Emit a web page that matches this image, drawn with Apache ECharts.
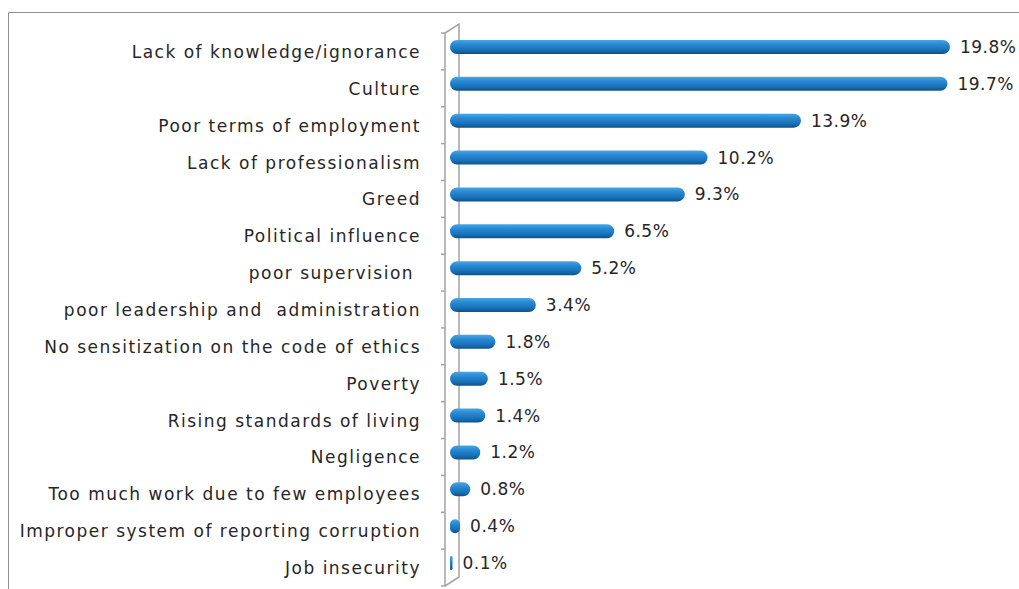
<!DOCTYPE html>
<html>
<head>
<meta charset="utf-8">
<title>Causes of corruption</title>
<script src="https://cdn.jsdelivr.net/npm/echarts@6/dist/echarts.min.js"></script>
<style>
  html, body { margin: 0; padding: 0; background: #ffffff; }
  #chart { width: 1019px; height: 589px; }
  /* category names are set a little wider, value labels slightly */
  #chart svg text { letter-spacing: 0.5px; }
  #chart svg text[text-anchor="end"] { letter-spacing: 1.5px; }
</style>
</head>
<body>
<div id="chart"></div>
<script>
const categories = [
  'Lack of knowledge/ignorance',
  'Culture',
  'Poor terms of employment',
  'Lack of professionalism',
  'Greed',
  'Political influence',
  'poor supervision ',
  'poor leadership and  administration',
  'No sensitization on the code of ethics',
  'Poverty',
  'Rising standards of living',
  'Negligence',
  'Too much work due to few employees',
  'Improper system of reporting corruption',
  'Job insecurity'
];
const values = [19.8, 19.7, 13.9, 10.2, 9.3, 6.5, 5.2, 3.4, 1.8, 1.5, 1.4, 1.2, 0.8, 0.4, 0.1];

const chart = echarts.init(document.getElementById('chart'), null, { renderer: 'svg' });

const barFill = new echarts.graphic.LinearGradient(0, 0, 0, 1, [
  { offset: 0, color: '#4aa6e4' },
  { offset: 0.3, color: '#2a8ad4' },
  { offset: 0.7, color: '#1872bb' },
  { offset: 1, color: '#0e5288' }
]);

chart.setOption({
  backgroundColor: '#ffffff',
  animation: false,
  grid: { left: 450, right: 64, top: 28.5, bottom: 7.5, containLabel: false },
  xAxis: {
    type: 'value', min: 0, max: 20,
    show: false
  },
  yAxis: {
    type: 'category',
    data: categories,
    inverse: true,
    axisLine: { show: false },
    axisTick: { show: false },
    axisLabel: {
      margin: 29,
      color: '#262626',
      fontFamily: 'DejaVu Sans',
      fontSize: 17,
      verticalAlign: 'top',
      lineHeight: 10
    }
  },
  series: [{
    type: 'bar',
    data: values,
    barWidth: 14,
    z: 3,
    itemStyle: {
      color: barFill,
      borderRadius: 7
    },
    label: {
      show: true,
      position: 'right',
      distance: 10,
      color: '#262626',
      fontFamily: 'DejaVu Sans',
      fontSize: 17,
      formatter: p => p.value.toFixed(1) + '%'
    }
  }]
});

// Skewed axis wall at the value-zero plane, with tick marks on its front edge
const x0 = chart.convertToPixel({ xAxisIndex: 0 }, 0);
const c0 = chart.convertToPixel({ yAxisIndex: 0 }, categories[0]);
const c1 = chart.convertToPixel({ yAxisIndex: 0 }, categories[1]);
const band = c1 - c0;
const yTop = c0 - band / 2;
const yBot = yTop + band * categories.length;
const dxF = -5, dxB = 9, dy = 4.5;
const wallStyle = { stroke: '#a3a3a3', lineWidth: 1.5, fill: 'none' };

const wall = [
  { type: 'polyline', z: 1, silent: true,
    shape: { points: [[x0 + dxF, yBot + dy], [x0 + dxF, yTop + dy], [x0 + dxB, yTop - dy], [x0 + dxB, yBot - dy], [x0 + dxF, yBot + dy]] },
    style: wallStyle }
];
for (let k = 0; k <= categories.length; k++) {
  const y = yTop + band * k + dy;
  wall.push({ type: 'line', z: 1, silent: true,
    shape: { x1: x0 + dxF - 4, y1: y, x2: x0 + dxF, y2: y },
    style: wallStyle });
}
// chart frame
wall.push({ type: 'rect', z: 0, silent: true,
  shape: { x: 8.5, y: 12.5, width: 1200, height: 800 },
  style: { stroke: '#8f8f8f', lineWidth: 1, fill: 'none' } });

chart.setOption({ graphic: wall });
</script>
</body>
</html>
